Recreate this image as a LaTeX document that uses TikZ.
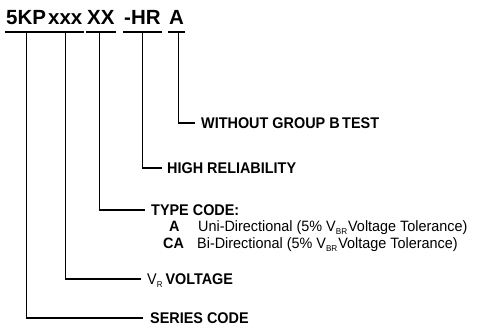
\documentclass[tikz,border=0pt]{standalone}
\usepackage{fontspec}
\setmainfont{Liberation Sans}
\newfontfamily\condfont[FakeStretch=0.93]{Liberation Sans}
\newfontfamily\condreg[FakeStretch=0.96]{Liberation Sans}
\newcommand\lowsub[1]{\raisebox{-3pt}{\fontsize{8.5}{8.5}\selectfont #1}}
\begin{document}
\begin{tikzpicture}[x=1pt,y=-1pt,
  conn/.style={line width=1.1pt},
  uline/.style={line width=1.6pt},
  topcode/.style={font=\fontsize{20.5}{24}\selectfont\bfseries, inner xsep=1pt, inner ysep=0pt, text depth=6.7pt, anchor=base west},
  lab/.style={font=\condfont\fontsize{15.5}{18}\selectfont\bfseries, inner sep=0pt, text height=11pt, text depth=0pt, anchor=west},
  sub/.style={font=\condreg\fontsize{15}{18}\selectfont, inner sep=0pt, anchor=base west}]
\useasboundingbox (0,0) rectangle (477,329);
% top code
\node[topcode] (p1) at (5,25) {5KP};
\node[topcode] (p2) at (47,25) {xxx};
\node[topcode] (p3) at (86,25) {XX};
\node[topcode] (p4) at (123,25) {-HR};
\node[topcode] (p5) at (168,25) {A};
\foreach \p in {p1,p2,p3,p4,p5}{\draw[uline] (\p.south west) -- (\p.south east);}
% labels
\node[lab] (l5) at (201,123) {WITHOUT GROUP B\kern2.5pt TEST};
\node[lab] (l4) at (167,168) {HIGH RELIABILITY};
\node[lab] (l3) at (151,210) {TYPE CODE:};
\node[lab] (l2) at (147,279) {\mdseries V\lowsub{R}\kern3pt\bfseries VOLTAGE};
\node[lab] (l1) at (150,318) {SERIES CODE};
% type code entries
\node[sub] (ta) at (169,231) {\bfseries A};
\node[sub] (tad) at (198,231) {Uni-Directional (5\% V\lowsub{BR}\kern1pt Voltage Tolerance)};
\node[sub] (tca) at (163,248) {\bfseries CA};
\node[sub] (tcad) at (197,248) {Bi-Directional (5\% V\lowsub{BR}\kern1pt Voltage Tolerance)};
% connectors
\draw[conn] ([xshift=2pt]p5.south) |- ([xshift=-6pt]l5.west);
\draw[conn] (p4.south) |- ([xshift=-5pt]l4.west);
\draw[conn] ([xshift=-1pt]p3.south) |- ([xshift=-6pt]l3.west);
\draw[conn] (p2.south) |- ([xshift=-6pt]l2.west);
\draw[conn] (p1.south) |- ([xshift=-7pt]l1.west);
\end{tikzpicture}
\end{document}
